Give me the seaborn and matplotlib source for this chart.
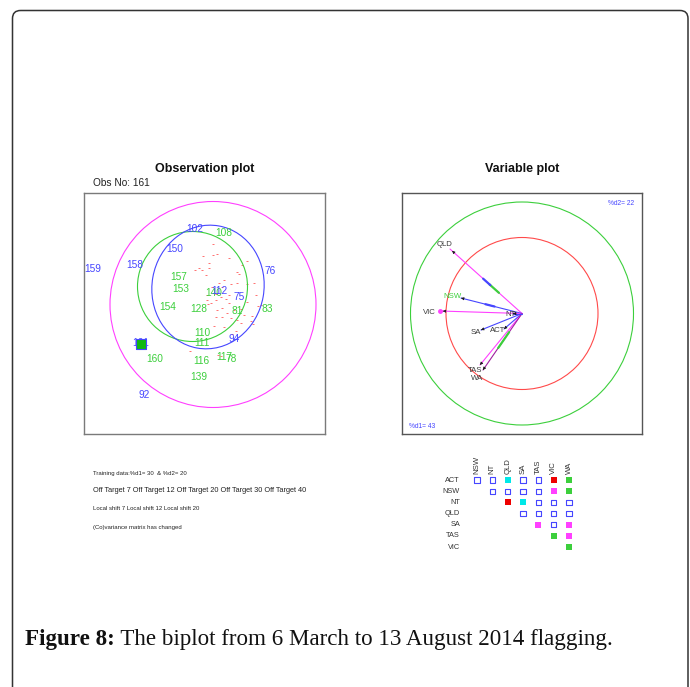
import numpy as np
import pandas as pd
import seaborn as sns
import matplotlib.pyplot as plt
from matplotlib.patches import Circle, Ellipse, FancyBboxPatch

# ---- observation plot: labelled observations (score coordinates) ----
obs_ids = ["102", "108", "150", "159", "158", "76", "157", "153", "140", "112",
           "75", "154", "128", "81", "83", "110", "111", "94", "161", "160",
           "116", "117", "78", "139", "92"]
obs_x = [-1.0, 1.9, -3.0, -11.2, -7.0, 6.6, -2.6, -2.4, 0.9, 1.5,
         3.5, -3.7, -0.6, 3.3, 6.3, -0.2, -0.3, 3.0, -6.4, -5.0,
         -0.3, 2.0, 2.7, -0.6, -6.0]
obs_y = [8.5, 8.0, 6.5, 4.5, 4.9, 4.3, 3.7, 2.4, 2.0, 2.2,
         1.7, 0.6, 0.4, 0.3, 0.4, -2.0, -2.9, -2.6, -3.0, -4.6,
         -4.8, -4.4, -4.6, -6.4, -8.2]
obs_group = ["b", "g", "b", "b", "b", "b", "g", "g", "g", "b",
             "b", "g", "g", "g", "g", "g", "g", "b", "b", "g",
             "g", "g", "g", "g", "b"]
selected_obs = "161"

# training observations (small red dots)
train_x = [0.8, -0.2, 0.8, 1.2, 2.4, 0.4, 4.2, 3.7, -0.6, 0.4, -1.0, -0.3, 3.2, 3.4,
           0.1, 1.9, 1.4, 2.6, 3.2, 4.2, 4.9, 0.7, 1.7, 0.2, 1.1, 1.6, 2.4, 2.1,
           5.1, 1.1, 0.6, 2.4, 4.2, 5.6, 1.2, 1.7, 2.2, 2.9, 3.6, 3.9, 4.7, 1.1,
           1.7, 2.6, 3.2, 4.6, 3.6, 0.9, 1.9, 3.1, 2.7, -1.5, 1.3, 1.6, 4.8, 5.3,
           0.2, 0.3]
train_y = [7.0, 5.8, 5.9, 6.0, 5.6, 5.1, 5.3, 4.9, 4.6, 4.6, 4.4, 4.4, 4.2, 4.0,
           3.9, 3.4, 3.1, 3.0, 3.1, 3.0, 3.1, 2.7, 2.7, 1.9, 2.0, 1.7, 1.9, 1.5,
           1.9, 1.4, 1.1, 1.1, 1.2, 0.9, 0.4, 0.6, 0.1, 0.4, 0.5, -0.1, -0.2, -0.3,
           -0.3, -0.4, -0.6, -0.7, -0.9, -1.2, -1.3, -1.7, -2.0, -3.7, -4.1, -4.2, -1.0, 0.8,
           1.4, 1.0]

# control limits: circles (cx, cy, r) and the blue ellipse
magenta_circle = (0.85, 0.9, 10.3)
green_circle = (-1.2, 2.7, 5.5)
blue_ellipse = (0.35, 2.65, 11.2, 12.4, -10)

# ---- variable plot ----
var_names = ["QLD", "NSW", "VIC", "SA", "ACT", "TAS", "WA", "NT"]
var_end_x = [-7.2, -6.1, -8.2, -4.1, -1.8, -4.2, -3.9, -0.9]
var_end_y = [6.45, 1.55, 0.25, -1.65, -1.55, -5.15, -5.65, 0.0]
var_lab_x = [-7.7, -7.0, -9.3, -4.6, -2.4, -4.7, -4.5, -1.1]
var_lab_y = [6.95, 1.65, 0.15, -1.95, -1.75, -5.65, -6.55, -0.15]
var_line = ["m", "b", "m", "b", "b", "m", "p", "b"]
var_lab_col = ["k", "g", "k", "k", "k", "k", "k", "k"]
inner_r, outer_r = 7.6, 11.15

# ---- correlation-change matrix ----
mat_rows = ["ACT", "NSW", "NT", "QLD", "SA", "TAS", "VIC"]
mat_cols = ["NSW", "NT", "QLD", "SA", "TAS", "VIC", "WA"]
mat_codes = [
    ["o", "o", "c", "o", "o", "r", "g"],
    ["", "o", "o", "o", "o", "m", "g"],
    ["", "", "r", "c", "o", "o", "o"],
    ["", "", "", "o", "o", "o", "o"],
    ["", "", "", "", "m", "o", "m"],
    ["", "", "", "", "", "g", "m"],
    ["", "", "", "", "", "", "g"],
]

notes = ["Training data:%d1= 30  & %d2= 20",
         "Off Target 7 Off Target 12 Off Target 20 Off Target 30 Off Target 40",
         "Local shift 7 Local shift 12 Local shift 20",
         "(Co)variance matrix has changed"]

BLUE = "#4646ff"
GREEN = "#3ccf3c"
MAG = "#ff40ff"
RED = "#ff4a4a"
cols = {"b": BLUE, "g": GREEN, "m": MAG, "p": "#a01ea0", "k": "#3a3a3a",
        "c": "#00e8e8", "r": "#ee0000"}

sns.set_theme(style="white")
plt.rcParams['font.family'] = ['Liberation Sans', 'DejaVu Sans']

fig = plt.figure(figsize=(6.9, 6.87), dpi=100)

# background axes in pixel units for the frame, notes and caption
bg = fig.add_axes([0, 0, 1, 1])
bg.set_xlim(0, 690)
bg.set_ylim(687, 0)
bg.axis("off")
bg.add_patch(FancyBboxPatch((12.5, 10.5), 675.5, 720,
                            boxstyle="round,pad=0,rounding_size=8",
                            fill=False, ec="#333333", lw=1.1))
for i, line in enumerate(notes):
    bg.text(93, 473 + 18 * i, line, fontsize=5.3 if i == 1 else 4.3,
            va="center", ha="left", color="#222222")
t1 = bg.text(25, 640, "Figure 8:", fontsize=16.6, fontweight="bold",
             family="Liberation Serif", va="center", ha="left", color="#111111")
bg.annotate(" The biplot from 6 March to 13 August 2014 flagging.",
            xy=(1, 0), xycoords=t1, va="bottom", ha="left",
            fontsize=16.6, family="Liberation Serif", color="#111111")

# ---- observation plot ----
ax1 = fig.add_axes([84 / 690, 253 / 687, 241 / 690, 241 / 687])
ax1.set_xlim(-12.05, 12.05)
ax1.set_ylim(-12.05, 12.05)
sns.scatterplot(x=train_x, y=train_y, ax=ax1, color="#ff7070", marker="_",
                s=3, linewidth=0.7, legend=False)
cx, cy, r = magenta_circle
ax1.add_patch(Circle((cx, cy), r, fill=False, ec=MAG, lw=0.8))
cx, cy, r = green_circle
ax1.add_patch(Circle((cx, cy), r, fill=False, ec=GREEN, lw=0.8))
ex, ey, w, h, ang = blue_ellipse
ax1.add_patch(Ellipse((ex, ey), w, h, angle=ang, fill=False, ec=BLUE, lw=0.8))
for lab, x, y, g in zip(obs_ids, obs_x, obs_y, obs_group):
    ax1.text(x, y, lab, color=cols[g], fontsize=7.3, ha="center", va="center",
             zorder=4 if g == "b" else 3)
    if lab == selected_obs:
        ax1.scatter([x], [y], marker="s", s=50, fc="#10b810", ec=BLUE,
                    lw=0.8, zorder=5)
ax1.set_xticks([])
ax1.set_yticks([])
for sp in ax1.spines.values():
    sp.set_color("#7a7a7a")
    sp.set_linewidth(1.0)
ax1.text(0.5, 1.0996, "Observation plot", transform=ax1.transAxes,
         ha="center", va="center", fontsize=9, fontweight="bold", color="#111111")
ax1.text(0.037, 1.0415, "Obs No: 161", transform=ax1.transAxes,
         ha="left", va="center", fontsize=7.3, color="#222222")

# ---- variable plot ----
ax2 = fig.add_axes([402 / 690, 253 / 687, 240 / 690, 241 / 687])
ax2.set_xlim(-12, 12)
ax2.set_ylim(-12.05, 12.05)
ax2.add_patch(Circle((0, 0), outer_r, fill=False, ec=GREEN, lw=0.8))
ax2.add_patch(Circle((0, 0), inner_r, fill=False, ec=RED, lw=0.8))
for name, x, y, lc in zip(var_names, var_end_x, var_end_y, var_line):
    ax2.plot([0, x], [0, y], color=cols[lc], lw=0.8, zorder=3)
    ax2.annotate("", xy=(x, y), xytext=(0.93 * x, 0.93 * y),
                 arrowprops=dict(arrowstyle="-|>", color="k", lw=0.5,
                                 mutation_scale=4), zorder=4)
# coloured stretches laid over some of the arrows
overlays = [("QLD", 0.32, 0.45, "g"), ("QLD", 0.44, 0.54, "b"),
            ("WA", 0.33, 0.61, "g"), ("NSW", 0.45, 0.6, "b")]
for name, t0, t1_, c in overlays:
    k = var_names.index(name)
    x, y = var_end_x[k], var_end_y[k]
    ax2.plot([t0 * x, t1_ * x], [t0 * y, t1_ * y], color=cols[c], lw=1.6, zorder=3)
k = var_names.index("VIC")
ax2.plot([var_end_x[k]], [var_end_y[k]], "o", color=MAG, ms=2.5, zorder=4)
for name, x, y, lc in zip(var_names, var_lab_x, var_lab_y, var_lab_col):
    ax2.text(x, y, name, color=cols[lc], fontsize=5.6, ha="center", va="center",
             zorder=5)
ax2.text(0.9125, 0.958, "%d2= 22", transform=ax2.transAxes, color=BLUE,
         fontsize=4.8, ha="center", va="center")
ax2.text(0.083, 0.033, "%d1= 43", transform=ax2.transAxes, color=BLUE,
         fontsize=4.8, ha="center", va="center")
ax2.set_xticks([])
ax2.set_yticks([])
for sp in ax2.spines.values():
    sp.set_color("#555555")
    sp.set_linewidth(1.0)
ax2.text(0.5, 1.0996, "Variable plot", transform=ax2.transAxes,
         ha="center", va="center", fontsize=9, fontweight="bold", color="#111111")

# ---- matrix of changed pairs ----
cells = pd.DataFrame([(i, j, c) for i, row in enumerate(mat_codes)
                      for j, c in enumerate(row) if c],
                     columns=["row", "col", "code"])
ax3 = fig.add_axes([470 / 690, 134 / 687, 106 / 690, 79 / 687])
ax3.set_xlim(-0.457, 6.457)
ax3.set_ylim(6.53, -0.537)
ax3.axis("off")
filled = cells[cells.code != "o"]
sns.scatterplot(data=filled, x="col", y="row", hue="code",
                palette={k: cols[k] for k in ["c", "r", "m", "g"]},
                marker="s", s=17, linewidth=0, legend=False, ax=ax3)
empty = cells[cells.code == "o"]
sns.scatterplot(data=empty, x="col", y="row", marker="s", s=14,
                facecolor="none", edgecolor=BLUE, linewidth=0.8,
                legend=False, ax=ax3)
for i, lab in enumerate(mat_rows):
    ax3.text(-1.11, i, lab, fontsize=5.3, ha="right", va="center", color="#333333")
for j, lab in enumerate(mat_cols):
    ax3.text(j, -0.54, lab, fontsize=5.6, ha="center", va="bottom",
             rotation=90, color="#333333")
ax3.set_xlabel("")
ax3.set_ylabel("")

fig.savefig("out.png", dpi=100)
